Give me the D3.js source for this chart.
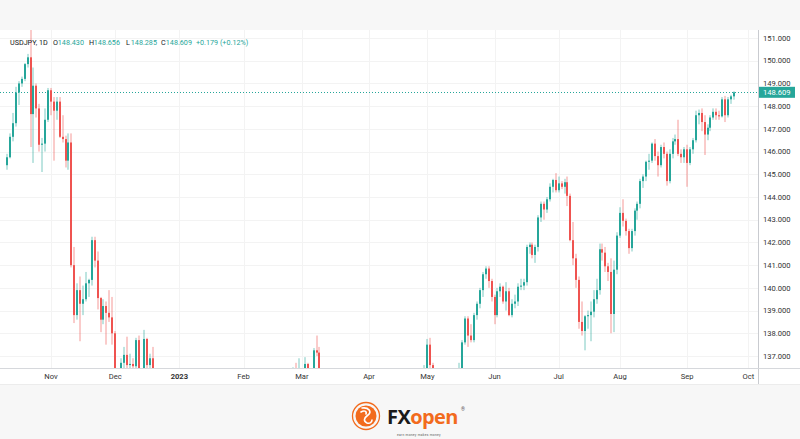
<!DOCTYPE html>
<meta charset="utf-8">
<style>
  body { margin: 0; background: #f7f7f7; }
  svg { display: block; font-family: Roboto, "Noto Sans", sans-serif; }
</style>
<body>
<script src="https://cdn.jsdelivr.net/npm/d3@7"></script>
<script>

// daily candles, one row per trading day: [open, high, low, close]
var oct22 = [
  [145.40,145.90,145.20,145.75],[145.75,146.80,145.70,146.65],[146.65,147.70,146.45,147.25],
  [147.25,148.85,147.10,148.60],[148.60,149.10,148.05,149.00],[149.00,149.30,148.85,149.20],
  [149.20,149.90,149.10,149.85],[149.85,150.30,149.70,150.15],[150.15,151.95,146.20,147.65],
  [147.65,149.70,145.50,148.90],[148.90,149.00,147.50,147.90],[147.90,148.10,146.00,146.30],
  [146.30,146.60,145.10,146.35],[146.35,147.90,146.00,147.40],[147.40,148.80,147.30,148.70]
];
var nov22 = [
  [148.70,148.80,147.60,148.20],[148.20,148.40,145.60,147.80],[147.80,148.40,147.40,148.20],
  [148.20,148.40,146.60,146.65],[146.65,147.60,146.40,146.55],[146.55,146.70,145.30,145.60],
  [145.60,146.80,145.20,146.40],[146.40,146.80,140.90,141.00],[141.00,141.80,138.45,138.80],
  [138.80,140.20,138.60,139.90],[139.90,140.50,137.65,139.30],[139.30,140.10,138.80,139.50],
  [139.50,140.70,139.40,140.20],[140.20,140.40,139.60,140.35],[140.35,142.25,140.10,142.10],
  [142.10,142.25,140.90,141.20],[141.20,141.60,139.05,139.55],[139.55,139.60,138.05,138.60],
  [138.60,139.50,138.40,139.20],[139.20,139.40,137.50,138.90],[138.90,139.90,138.50,138.70],
  [138.70,139.60,137.50,138.00]
];
var dec22 = [
  [138.00,138.10,134.80,135.30],[135.30,135.90,133.60,134.30],[134.30,136.90,134.10,136.70],
  [136.70,137.40,136.40,137.05],[137.05,137.85,136.30,136.60],[136.60,137.10,136.20,136.65],
  [136.65,136.90,135.70,136.55],[136.55,137.80,136.20,137.70],[137.70,137.90,134.70,135.60],
  [135.60,136.00,134.50,135.50],[135.50,138.15,135.40,137.75],[137.75,137.80,136.00,136.60],
  [136.60,137.10,136.00,136.90],[136.90,137.40,130.60,131.70],[131.70,132.70,130.60,132.40],
  [132.40,132.70,131.70,132.45],[132.45,132.90,131.70,132.80],[132.80,133.00,132.60,132.90],
  [132.90,133.60,132.60,133.50],[133.50,134.50,133.40,134.30],[134.30,134.40,132.90,133.00],
  [133.00,133.10,130.80,131.10]
];
var jan23 = [
  [131.10,131.20,129.80,130.90],[130.90,131.40,129.50,131.00],[131.00,132.70,130.90,132.40],
  [132.40,134.00,132.30,133.40],[133.40,134.80,131.90,132.10],[132.10,132.30,131.60,131.90],
  [131.90,132.30,131.50,132.20],[132.20,132.60,131.80,132.40],[132.40,132.80,128.90,129.20],
  [129.20,129.40,127.50,127.90],[127.90,128.90,127.20,128.50],[128.50,128.90,127.80,128.10],
  [128.10,131.60,128.00,128.90],[128.90,128.90,127.60,128.40],[128.40,130.60,128.30,129.60],
  [129.60,131.10,129.50,130.70],[130.70,130.80,129.90,130.20],[130.20,130.50,129.00,129.20],
  [129.20,130.60,129.10,130.20],[130.20,130.60,129.70,129.90],[129.90,130.50,129.60,130.40],
  [130.40,130.90,129.90,130.10]
];
var feb23 = [
  [130.10,130.20,128.70,128.90],[128.90,129.00,128.10,128.60],[128.60,131.20,128.40,131.20],
  [131.20,132.90,131.10,132.60],[132.60,132.70,130.50,131.10],[131.10,131.50,130.70,131.40],
  [131.40,131.80,130.90,131.45],[131.45,132.20,129.80,131.40],[131.40,132.50,131.30,132.40],
  [132.40,133.30,131.50,133.10],[133.10,134.30,132.50,134.10],[134.10,134.40,133.60,133.90],
  [133.90,135.10,133.70,134.20],[134.20,134.40,134.00,134.25],[134.25,135.20,134.10,134.90],
  [134.90,135.30,134.70,134.85],[134.85,135.00,134.50,134.70],[134.70,136.50,134.50,136.40],
  [136.40,136.70,135.80,136.20],[136.20,136.90,136.00,136.25]
];
var mar23 = [
  [136.25,136.40,135.30,136.10],[136.10,136.95,135.70,136.65],[136.65,136.70,135.40,135.85],
  [135.85,136.00,135.30,135.90],[135.90,137.35,135.40,137.25],[137.25,137.90,137.00,137.15],
  [137.15,137.40,135.90,136.15],[136.15,136.30,134.10,134.95],[134.95,135.10,132.30,133.20],
  [133.20,134.60,132.70,134.20],[134.20,135.10,132.60,133.40],[133.40,133.80,132.50,133.70],
  [133.70,133.80,131.70,131.80],[131.80,132.60,130.60,131.30],[131.30,132.60,131.00,132.40],
  [132.40,132.60,131.20,131.40],[131.40,131.60,130.40,130.80],[130.80,131.00,129.60,130.70],
  [130.70,131.60,130.50,131.40],[131.40,131.60,130.40,130.90],[130.90,133.00,130.80,132.80],
  [132.80,133.40,132.00,132.70],[132.70,133.60,132.50,132.80]
];
var apr23 = [
  [132.80,133.70,132.10,132.40],[132.40,132.60,131.60,131.70],[131.70,131.90,130.70,131.30],
  [131.30,131.90,130.80,131.80],[131.80,132.40,131.40,132.10],[132.10,133.70,131.90,133.60],
  [133.60,133.80,133.00,133.70],[133.70,133.80,132.70,133.10],[133.10,133.20,132.00,132.60],
  [132.60,133.90,132.40,133.80],[133.80,134.60,133.60,134.50],[134.50,134.50,133.80,134.10],
  [134.10,134.90,133.90,134.70],[134.70,134.80,133.80,134.20],[134.20,134.30,133.80,134.15],
  [134.15,134.60,133.90,134.30],[134.30,134.40,133.00,133.70],[133.70,133.80,133.00,133.60],
  [133.60,134.20,133.20,133.90],[133.90,136.60,133.80,136.30]
];
var may23 = [
  [136.30,137.75,136.20,137.50],[137.50,137.80,136.40,136.60],[136.60,136.70,134.60,134.70],
  [134.70,135.00,133.50,134.30],[134.30,135.10,133.50,134.80],[134.80,135.20,134.60,135.10],
  [135.10,135.40,134.80,135.20],[135.20,135.50,134.00,134.40],[134.40,134.90,133.80,134.50],
  [134.50,135.80,134.30,135.70],[135.70,136.00,135.50,135.75],[135.75,136.70,135.50,136.40],
  [136.40,137.70,136.30,137.60],[137.60,138.75,137.50,138.65],[138.65,138.75,137.40,137.90],
  [137.90,138.40,137.60,137.70],[137.70,138.90,137.60,138.80],[138.80,139.40,138.60,139.30],
  [139.30,140.00,139.10,139.90],[139.90,140.70,139.60,140.60],[140.60,140.95,140.40,140.85],
  [140.85,140.95,140.00,140.30],[140.30,140.40,139.40,139.60]
];
var jun23 = [
  [139.60,139.70,138.40,138.80],[138.80,140.00,138.70,139.85],[139.85,140.20,139.60,140.05],
  [140.05,140.10,139.30,139.40],[139.40,140.25,139.00,139.85],[139.85,140.00,138.75,138.80],
  [138.80,139.50,138.70,139.30],[139.30,139.70,139.10,139.40],[139.40,140.20,139.20,140.05],
  [140.05,140.40,139.90,140.10],[140.10,140.40,139.90,140.25],[140.25,141.90,140.10,141.80],
  [141.80,142.00,141.50,141.90],[141.90,142.00,141.30,141.45],[141.45,141.90,141.10,141.80],
  [141.80,143.20,141.60,143.10],[143.10,143.80,142.90,143.70],[143.70,143.80,143.00,143.45],
  [143.45,144.00,143.30,143.90],[143.90,144.60,143.80,144.45],[144.45,144.80,144.20,144.75],
  [144.75,145.05,144.20,144.30]
];
var jul23 = [
  [144.30,144.90,144.20,144.60],[144.60,144.70,144.35,144.45],[144.45,144.80,144.15,144.65],
  [144.65,144.90,143.60,144.05],[144.05,144.15,142.05,142.10],[142.10,142.90,141.00,141.30],
  [141.30,141.50,140.00,140.35],[140.35,140.50,138.20,138.50],[138.50,139.40,137.90,138.10],
  [138.10,138.80,137.25,138.75],[138.75,139.00,138.20,138.80],[138.80,139.40,137.65,138.95],
  [138.95,139.90,138.70,139.50],[139.50,140.40,139.30,139.90],[139.90,141.95,139.70,141.70],
  [141.70,141.95,141.20,141.55],[141.55,141.80,140.70,140.95],[140.95,141.10,140.30,140.70],
  [140.70,141.30,138.00,138.85],[138.85,141.20,138.05,140.80],[140.80,142.45,140.60,142.30]
];
var aug23 = [
  [142.30,143.55,142.20,143.30],[143.30,143.90,142.70,142.95],[142.95,143.05,142.30,142.50],
  [142.50,142.60,141.50,141.75],[141.75,142.60,141.60,142.50],[142.50,143.50,142.30,143.40],
  [143.40,143.80,143.00,143.70],[143.70,144.80,143.50,144.70],[144.70,145.00,144.40,144.90],
  [144.90,145.60,144.70,145.55],[145.55,145.90,145.20,145.60],[145.60,146.40,145.50,146.35],
  [146.35,146.55,145.60,145.80],[145.80,146.00,144.90,145.40],[145.40,146.30,145.30,146.20],
  [146.20,146.40,145.70,145.90],[145.90,146.00,144.50,144.70],[144.70,146.10,144.60,145.90],
  [145.90,146.60,145.70,146.45],[146.45,146.75,146.30,146.55],[146.55,147.40,145.80,145.90],
  [145.90,146.10,145.50,145.75],[145.75,146.20,145.50,146.10]
];
var sep23 = [
  [146.10,146.30,144.45,145.50],[145.50,146.20,145.40,146.10],[146.10,146.60,145.90,146.50],
  [146.50,147.80,146.40,147.60],[147.60,147.85,147.20,147.70],[147.70,147.90,146.90,147.30],
  [147.30,147.60,145.85,146.75],[146.75,147.20,146.50,147.05],[147.05,147.60,146.90,147.50],
  [147.50,147.90,147.40,147.75],[147.75,147.90,147.40,147.60],[147.60,147.80,147.40,147.55],
  [147.55,148.40,147.50,148.30],[148.30,148.45,147.30,147.60],[147.60,148.40,147.50,148.30],
  [148.30,148.50,148.10,148.43],[148.43,148.656,148.285,148.609]
];

var firstDay = "2022-10-11";
var monthStarts = ["2022-11-01","2022-12-01","2023-01-02","2023-02-01","2023-03-01","2023-04-03",
                   "2023-05-01","2023-06-01","2023-07-03","2023-08-01","2023-09-01","2023-10-02"];
var monthLabels = ["Nov","Dec","2023","Feb","Mar","Apr","May","Jun","Jul","Aug","Sep","Oct"];
var priceTicks = [137,138,139,140,141,142,143,144,145,146,147,148,149,150,151];
var lastPrice = 148.609;
var legend = [["O","148.430"],["H","148.656"],["L","148.285"],["C","148.609"]];
var change = "+0.179 (+0.12%)";

var up = "#26a69a", down = "#ef5350";
var W = 800, H = 439;
var plot = {left: 0, right: 758, top: 30, bottom: 368};

var candles = [].concat(oct22, nov22, dec22, jan23, feb23, mar23, apr23, may23, jun23, jul23, aug23, sep23)
  .map(function (r, i) { return {i: i, o: r[0], h: r[1], l: r[2], c: r[3]}; });

// weekday calendar (forex trades every weekday)
var days = [];
var dd = new Date(firstDay + "T00:00:00Z");
while (days.length < 270) {
  var wd = dd.getUTCDay();
  if (wd !== 0 && wd !== 6) days.push(d3.utcFormat("%Y-%m-%d")(dd));
  dd.setUTCDate(dd.getUTCDate() + 1);
}
var dayIndex = function (s) { return days.indexOf(s); };

var x = d3.scaleLinear().domain([0, 255]).range([7.2, 7.2 + 255 * 2.918]);
var y = d3.scaleLinear().domain([137, 151]).range([356, 38]);

var svg = d3.select("body").append("svg").attr("width", W).attr("height", H);

svg.append("rect").attr("width", W).attr("height", H).attr("fill", "#f7f7f7");
svg.append("rect").attr("x", 0).attr("y", plot.top).attr("width", W).attr("height", 354).attr("fill", "#fff");

// grid
svg.append("g").selectAll("line").data(priceTicks).enter().append("line")
  .attr("x1", plot.left).attr("x2", plot.right)
  .attr("y1", function (d) { return Math.round(y(d)) + 0.5; })
  .attr("y2", function (d) { return Math.round(y(d)) + 0.5; })
  .attr("stroke", "#f3f3f3");
svg.append("g").selectAll("line").data(monthStarts).enter().append("line")
  .attr("x1", function (d) { return Math.round(x(dayIndex(d))) + 0.5; })
  .attr("x2", function (d) { return Math.round(x(dayIndex(d))) + 0.5; })
  .attr("y1", plot.top).attr("y2", plot.bottom)
  .attr("stroke", "#f3f3f3");

svg.append("clipPath").attr("id", "clip").append("rect")
  .attr("x", plot.left).attr("y", plot.top)
  .attr("width", plot.right - plot.left).attr("height", plot.bottom - plot.top);

var g = svg.append("g").attr("clip-path", "url(#clip)");

// last price dotted line
g.append("line")
  .attr("x1", plot.left).attr("x2", plot.right)
  .attr("y1", Math.round(y(lastPrice)) + 0.5).attr("y2", Math.round(y(lastPrice)) + 0.5)
  .attr("stroke", up).attr("stroke-dasharray", "1,2").attr("stroke-width", 1);

var cg = g.selectAll(".candle").data(candles).enter().append("g").attr("class", "candle");
cg.append("line")
  .attr("x1", function (d) { return Math.round(x(d.i)); })
  .attr("x2", function (d) { return Math.round(x(d.i)); })
  .attr("y1", function (d) { return y(d.h); })
  .attr("y2", function (d) { return y(d.l); })
  .attr("stroke", function (d) { return d.c >= d.o ? up : down; })
  .attr("stroke-opacity", 0.6)
  .attr("stroke-width", 1);
cg.append("rect")
  .attr("x", function (d) { return Math.round(x(d.i)) - 1; })
  .attr("width", 2)
  .attr("y", function (d) { return y(Math.max(d.o, d.c)); })
  .attr("height", function (d) { return Math.max(1, Math.abs(y(d.o) - y(d.c))); })
  .attr("fill", function (d) { return d.c >= d.o ? up : down; });

// price scale
svg.append("line").attr("x1", plot.right + 0.5).attr("x2", plot.right + 0.5)
  .attr("y1", plot.top).attr("y2", 384).attr("stroke", "#c9cbd0");
svg.append("g").selectAll("text").data(priceTicks).enter().append("text")
  .attr("x", 763).attr("y", function (d) { return y(d); })
  .attr("dy", "0.35em")
  .attr("font-size", 7.6).attr("fill", "#333")
  .text(function (d) { return d3.format(".3f")(d); });

// last price label
svg.append("rect").attr("x", plot.right + 1).attr("y", y(lastPrice) - 5.5)
  .attr("width", 36).attr("height", 11).attr("fill", up);
svg.append("text").attr("x", 763).attr("y", y(lastPrice)).attr("dy", "0.35em")
  .attr("font-size", 7.6).attr("fill", "#fff").text(d3.format(".3f")(lastPrice));

// time scale
svg.append("line").attr("x1", 0).attr("x2", W).attr("y1", plot.bottom + 0.5).attr("y2", plot.bottom + 0.5)
  .attr("stroke", "#d6d8dc");
svg.append("line").attr("x1", 0).attr("x2", W).attr("y1", 384.5).attr("y2", 384.5)
  .attr("stroke", "#ececec");
svg.append("g").selectAll("text").data(monthStarts).enter().append("text")
  .attr("x", function (d) { return x(dayIndex(d)); })
  .attr("y", 379)
  .attr("text-anchor", "middle")
  .attr("font-size", 7.6)
  .attr("font-weight", function (d, i) { return monthLabels[i] === "2023" ? "bold" : "normal"; })
  .attr("fill", "#333")
  .text(function (d, i) { return monthLabels[i]; });

// legend
var lf = 7.2;
var lg = svg.append("g").attr("font-size", lf);
lg.append("text").attr("x", 10).attr("y", 45).attr("fill", "#131722").text("USDJPY, 1D");
var lx = [53, 89, 126, 161];
legend.forEach(function (p, k) {
  lg.append("text").attr("x", lx[k]).attr("y", 45).attr("fill", "#131722").text(p[0]);
  lg.append("text").attr("x", lx[k] + 4.8).attr("y", 45).attr("fill", up).text(p[1]);
});
lg.append("text").attr("x", 196).attr("y", 45).attr("fill", up).text(change);

// FXopen logo
var orange = "#f26b1d";
var logo = svg.append("g").attr("transform", "translate(366,416)");
logo.append("circle").attr("r", 13.5).attr("fill", "none").attr("stroke", orange).attr("stroke-width", 1.3);
logo.append("circle").attr("r", 10.5).attr("fill", orange);
logo.append("path")
  .attr("d", "M-4,-8 C3,-9 6,-4 2,-1 C-2,2 -3,5 1,7 C4,8 6,6 6,4 M-5,-4 C-2,-6 1,-5 0,-2")
  .attr("fill", "none").attr("stroke", "#fff").attr("stroke-width", 1.6).attr("stroke-linecap", "round");
var lt = svg.append("text").attr("x", 387).attr("y", 424).attr("font-size", 20)
  .attr("font-weight", "bold").attr("font-family", "'Open Sans', sans-serif").attr("letter-spacing", -0.6);
lt.append("tspan").attr("fill", "#1a1a1a").text("FX");
lt.append("tspan").attr("fill", orange).text("open");
svg.append("text").attr("x", 461).attr("y", 411).attr("font-size", 5).attr("fill", "#555").text("®");
svg.append("text").attr("x", 397).attr("y", 435.5).attr("font-size", 3.2).attr("fill", "#555")
  .attr("letter-spacing", 0.3).text("earn money   makes money");

</script>
</body>
